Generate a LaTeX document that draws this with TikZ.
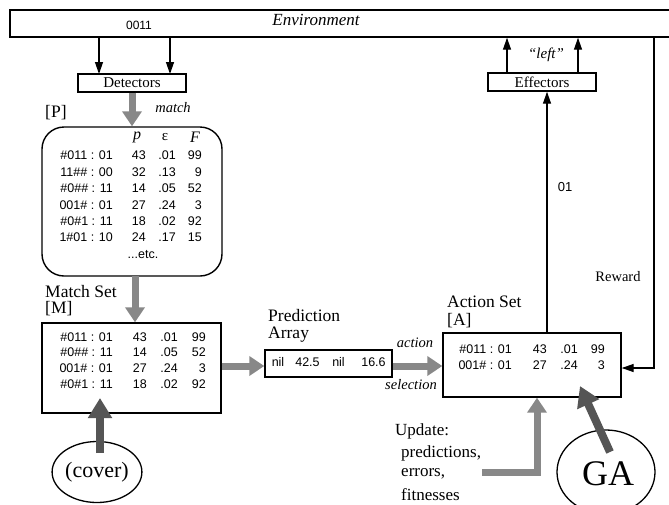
\documentclass[tikz,border=0pt]{standalone}
\usepackage{fontspec}
\setmainfont{Liberation Serif}
\newfontfamily\arialf{Liberation Sans}
\usetikzlibrary{arrows.meta,shapes.geometric,calc}
\definecolor{lgray}{RGB}{136,136,136}
\definecolor{dgray}{RGB}{85,85,85}
\newcommand\fs[1]{\fontsize{#1}{#1}\selectfont}
\newcommand\xrow[9]{%
  \node[tab,anchor=east] at (#6,#1) {#2};
  \node[tab,anchor=east] at (#7,#1) {#3};
  \node[tab,anchor=east] at (#8,#1) {#4};
  \node[tab,anchor=east] at (#9,#1) {#5};}
\begin{document}
\begin{tikzpicture}[x=1pt,y=-1pt,
  box/.style={draw,line width=1.4pt,inner sep=0pt},
  thinarr/.style={line width=1.3pt,-{Triangle[width=8pt,length=12pt]}},
  grayarr/.style={line width=7pt,draw=lgray,-{Triangle[width=19pt,length=15pt]}},
  darkarr/.style={line width=8pt,draw=dgray,-{Triangle[width=23pt,length=20pt]}},
  lab/.style={inner sep=0pt,font=\fs{17.5}},
  mid/.style={inner sep=0pt,font=\fs{15}},
  itl/.style={inner sep=0pt,font=\fs{14.5}\itshape},
  tab/.style={inner sep=0pt,font=\arialf\fs{12.5},text height=9pt,text depth=0pt},
]
\useasboundingbox (0,0) rectangle (669,504);
\clip (0,0) rectangle (669,504);
\fill[white] (0,0) rectangle (669,504);

% Environment
\node[box,minimum width=690pt,minimum height=27pt] (env) at (355,23.5) {};
\node[inner sep=0pt,font=\fs{17}\itshape] (envt) at (316,20) {Environment};
\node[inner sep=0pt,font=\arialf\fs{12}] (inp) at (139,25) {0011};

% Detectors / Effectors
\node[box,mid,minimum width=108pt,minimum height=18pt] (det) at (132,83) {Detectors};
\node[box,mid,minimum width=108pt,minimum height=18pt] (eff) at (542,82) {Effectors};
\coordinate (da) at (99,74);
\coordinate (db) at (170,74);
\draw[thinarr] (da |- env.south) -- (da);
\draw[thinarr] (db |- env.south) -- (db);
\coordinate (ea) at (507,73);
\coordinate (eb) at (578,73);
\draw[thinarr] (ea) -- (ea |- env.south);
\draw[thinarr] (eb) -- (eb |- env.south);
\node[inner sep=0pt,font=\fs{15}\itshape] (left) at (546,55) {“left”};

% Population
\node[lab,anchor=west] (plab) at (45,113) {[P]};
\node[itl] (match) at (173,108) {match};
\node[box,rounded corners=22pt,minimum width=180pt,minimum height=149pt] (pop) at (132,201.5) {};
\draw[grayarr] (det.south) -- (pop.north -| det.south);
\node[inner sep=0pt,font=\fs{16}\itshape] (hp) at (137,137) {p};
\node[inner sep=0pt,font=\fs{15}] (he) at (165,137) {ε};
\node[inner sep=0pt,font=\fs{16}\itshape] (hf) at (195,137) {F};
\xrow{155}{\#011 : 01}{43}{.01}{99}{113}{146}{176}{202}
\xrow{172}{11\#\# : 00}{32}{.13}{9}{113}{146}{176}{202}
\xrow{188}{\#0\#\# : 11}{14}{.05}{52}{113}{146}{176}{202}
\xrow{205}{001\# : 01}{27}{.24}{3}{113}{146}{176}{202}
\xrow{221}{\#0\#1 : 11}{18}{.02}{92}{113}{146}{176}{202}
\xrow{237}{1\#01 : 10}{24}{.17}{15}{113}{146}{176}{202}
\node[tab,anchor=center] (etc) at (143,254) {...etc.};

% Match set
\node[lab,anchor=west] (mlab1) at (45,292) {Match Set};
\node[lab,anchor=west] (mlab2) at (45,309) {[M]};
\node[box,minimum width=179pt,minimum height=90pt] (ms) at (131.5,368) {};
\coordinate (pm) at (135,276);
\draw[grayarr] (pm) -- (pm |- ms.north);
\xrow{337}{\#011 : 01}{43}{.01}{99}{113}{147}{178}{206}
\xrow{352}{\#0\#\# : 11}{14}{.05}{52}{113}{147}{178}{206}
\xrow{368}{001\# : 01}{27}{.24}{3}{113}{147}{178}{206}
\xrow{384}{\#0\#1 : 11}{18}{.02}{92}{113}{147}{178}{206}

% cover
\node[draw,line width=1.3pt,ellipse,inner sep=0pt,minimum width=83pt,minimum height=61pt,font=\fs{22}] (cover) at (97,472) {(cover)};
\coordinate (cs) at (100,453);
\draw[darkarr] (cs) -- (100,398);

% Prediction array
\node[lab,anchor=west] (palab1) at (268,316) {Prediction};
\node[lab,anchor=west] (palab2) at (268,335) {Array};
\node[box,minimum width=127pt,minimum height=27pt] (pa) at (328.5,363.5) {};
\node[tab] (pa1) at (278,362) {nil};
\node[tab] (pa2) at (307.5,362) {42.5};
\node[tab] (pa3) at (338.5,362) {nil};
\node[tab] (pa4) at (373.5,362) {16.6};
\coordinate (mpy) at (0,366);
\draw[grayarr] (ms.east |- mpy) -- (pa.west |- mpy);

% Action set
\node[lab,anchor=west] (alab1) at (447,302) {Action Set};
\node[lab,anchor=west] (alab2) at (447,321) {[A]};
\node[box,minimum width=178pt,minimum height=64pt] (as) at (532,365) {};
\draw[grayarr] (pa.east |- mpy) -- (as.west |- mpy);
\node[itl] (act) at (415,343) {action};
\node[itl] (sel) at (411,385) {selection};
\xrow{349}{\#011 : 01}{43}{.01}{99}{512}{547}{578}{605}
\xrow{365}{001\# : 01}{27}{.24}{3}{512}{547}{578}{605}

% action to effectors
\coordinate (ao) at (547,333);
\draw[thinarr] (ao) -- (ao |- eff.south);
\node[inner sep=0pt,font=\arialf\fs{13}] (o1) at (565,187) {01};

% Reward
\coordinate (rw) at (654,37);
\coordinate (rwe) at (0,368);
\draw[thinarr] (rw) |- (as.east |- rwe);
\node[inner sep=0pt,font=\fs{14.5}] (rew) at (618,277) {Reward};

% Update
\node[inner sep=0pt,anchor=west,font=\fs{17}] (u1) at (395,431) {Update:};
\node[inner sep=0pt,anchor=west,font=\fs{17}] (u2) at (401,453) {predictions,};
\node[inner sep=0pt,anchor=west,font=\fs{17}] (u3) at (401,474) {errors,};
\node[inner sep=0pt,anchor=west,font=\fs{17}] (u4) at (401,495) {fitnesses};
\coordinate (us) at (482,472);
\coordinate (ut) at ($(as.south)+(5,0)$);
\draw[grayarr] (us) -| (ut);

% GA
\node[draw,line width=1.3pt,ellipse,inner sep=0pt,minimum width=98pt,minimum height=84pt] (ga) at (606,472) {};
\node[inner sep=0pt,font=\fs{36}] (gat) at (608,474) {GA};
\coordinate (gs) at (610,452);
\draw[darkarr] (gs) -- (580,386);
\end{tikzpicture}
\end{document}
